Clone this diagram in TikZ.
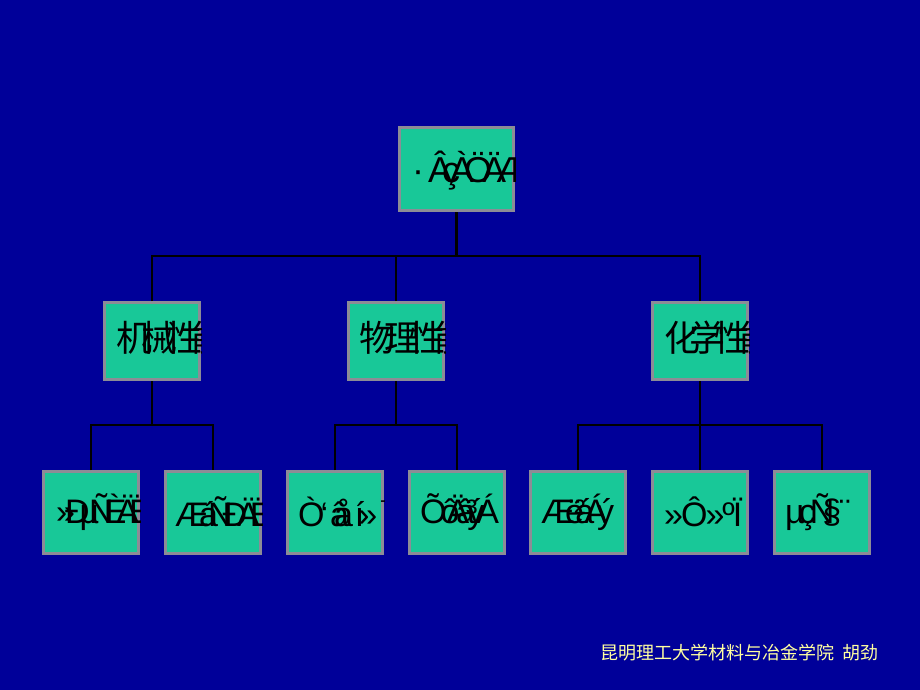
\documentclass[tikz,border=0pt]{standalone}
\usepackage{fontspec}
\setmainfont{Liberation Sans}
\newfontfamily\cjk{Noto Sans CJK SC}
\definecolor{bgblue}{RGB}{0,0,153}
\definecolor{boxteal}{RGB}{24,200,152}
\definecolor{boxgray}{RGB}{140,140,150}
\definecolor{footyellow}{RGB}{255,255,160}
\newcommand\kk{\kern-10pt}
\begin{document}
\begin{tikzpicture}[x=1pt,y=-1pt,
  boxbase/.style={draw=boxgray, line width=3pt, fill=boxteal, inner sep=0pt, rectangle},
  topbox/.style={boxbase, minimum width=114pt, minimum height=83pt},
  midbox/.style={boxbase, minimum width=95pt, minimum height=77pt},
  lowbox/.style={boxbase, minimum width=95pt, minimum height=82pt},
  conn/.style={draw=black, line width=2.2pt},
  boxtext/.style={anchor=west, inner sep=0pt, text=black, font=\fontsize{34}{34}\selectfont},
  cjktext/.style={anchor=west, inner sep=0pt, text=black, font=\cjk\fontsize{36}{36}\selectfont},
  foot/.style={anchor=west, inner sep=0pt, text=footyellow, font=\cjk\fontsize{18}{18}\selectfont}]
\fill[bgblue] (0,0) rectangle (920,690);
\useasboundingbox (0,0) rectangle (920,690);

% boxes
\node[topbox] (top) at (456.5,169) {};
\node[midbox] (m1) at (152,341) {};
\node[midbox] (m2) at (396,341) {};
\node[midbox] (m3) at (700,341) {};
\node[lowbox] (b1) at (91,512.5) {};
\node[lowbox] (b2) at (213,512.5) {};
\node[lowbox] (b3) at (335,512.5) {};
\node[lowbox] (b4) at (457,512.5) {};
\node[lowbox] (b5) at (578,512.5) {};
\node[lowbox] (b6) at (700,512.5) {};
\node[lowbox] (b7) at (822,512.5) {};

% connectors
\coordinate (bar0) at (456.5,256);
\coordinate (bar1) at (152,425);
\coordinate (bar2) at (396,425);
\coordinate (bar3) at (700,425);
\draw[conn] (top.south) -- (bar0);
\draw[conn] (m1.north) |- (bar0) -| (m3.north);
\draw[conn] (m2.north) -- (m2.north |- bar0);
\draw[conn] (m1.south) -- (bar1);
\draw[conn] (b1.north) |- (bar1) -| (b2.north);
\draw[conn] (m2.south) -- (bar2);
\draw[conn] (b3.north) |- (bar2) -| (b4.north);
\draw[conn] (m3.south) -- (bar3);
\draw[conn] (b5.north) |- (bar3) -| (b7.north);
\draw[conn] (b6.north) -- (b6.north |- bar3);

% texts, clipped to the boxes
\begin{scope}
\clip (top.north west) rectangle (top.south east);
\node[boxtext, font=\fontsize{36}{36}\selectfont] (ttop) at (412,171) {·\kern4pt Â\kern-10pt ç\kern-10pt À\kern-10pt Ö\kern-10pt Ä\kern-10pt Æ};
\end{scope}
\begin{scope}
\clip (m1.north west) rectangle (m1.south east);
\node[cjktext] (tm1) at (116,338) {机\kern-11pt 械\kern-11pt 性\kern-11pt 能};
\end{scope}
\begin{scope}
\clip (m2.north west) rectangle (m2.south east);
\node[cjktext] (tm2) at (359,338) {物\kern-11pt 理\kern-11pt 性\kern-11pt 能};
\end{scope}
\begin{scope}
\clip (m3.north west) rectangle (m3.south east);
\node[cjktext] (tm3) at (664,338) {化\kern-11pt 学\kern-11pt 性\kern-11pt 能};
\end{scope}
\begin{scope}
\clip (b1.north west) rectangle (b1.south east);
\node[boxtext] (tb1) at (56,512) {»\kk Ð\kk µ\kk Ñ\kk È\kk Ä\kk Ë};
\end{scope}
\begin{scope}
\clip (b2.north west) rectangle (b2.south east);
\node[boxtext] (tb2) at (175,512) {Æ\kk á\kk Ñ\kk Ð\kk Ä\kk Ë};
\end{scope}
\begin{scope}
\clip (b3.north west) rectangle (b3.south east);
\node[boxtext] (tb3) at (298,512) {Ò\kern-4pt {\char"60}\kern2pt â\kern-15pt å\kern2pt í\kern-6pt »\kern4pt ¯};
\end{scope}
\begin{scope}
\clip (b4.north west) rectangle (b4.south east);
\node[boxtext] (tb4) at (420,512) {Õ\kern-6pt ô\kern-13pt Ä\kern-13pt â\kern-9pt ³\kern-10pt ý\kern-8pt Á};
\end{scope}
\begin{scope}
\clip (b5.north west) rectangle (b5.south east);
\node[boxtext] (tb5) at (541,512) {Æ\kk ë\kk ²\kk á\kk Á\kk ý};
\end{scope}
\begin{scope}
\clip (b6.north west) rectangle (b6.south east);
\node[boxtext] (tb6) at (664,512) {»\kern-2pt Ô\kern-2pt »\kern-2pt º\kern-2pt Ï};
\end{scope}
\begin{scope}
\clip (b7.north west) rectangle (b7.south east);
\node[boxtext] (tb7) at (785,512) {µ\kern-6pt ç\kern-6pt Ñ\kern-12pt §\kern-2pt ¨};
\end{scope}

% footer
\node[foot] (footer) at (600,653) {昆明理工大学材料与冶金学院\hspace{8pt}胡劲};
\end{tikzpicture}
\end{document}
